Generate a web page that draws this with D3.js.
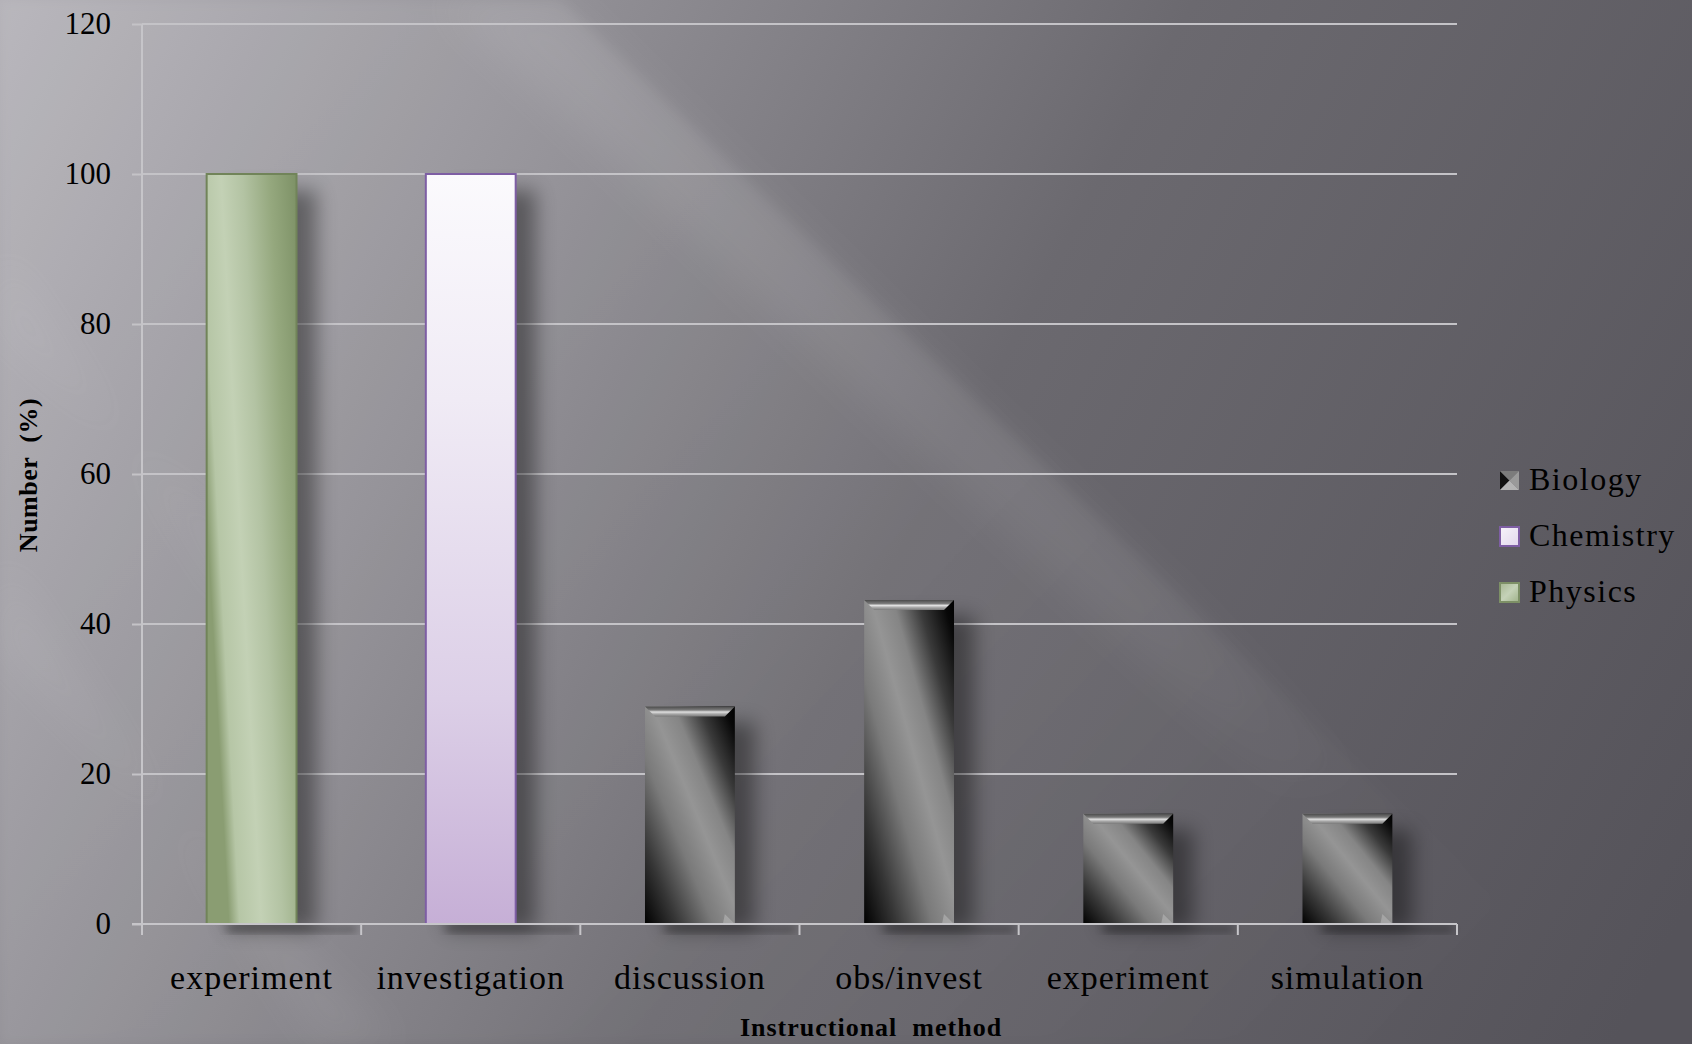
<!DOCTYPE html>
<html><head><meta charset="utf-8">
<script src="https://cdn.jsdelivr.net/npm/d3@7"></script>
<style>html,body{margin:0;padding:0;background:#6a686e;overflow:hidden}</style>
</head><body><svg id="c" width="1692" height="1044"></svg>
<script>
// ---- data ----
const categories = ["experiment", "investigation", "discussion", "obs/invest", "experiment", "simulation"];
const seriesOf   = ["Physics", "Chemistry", "Biology", "Biology", "Biology", "Biology"];
const values     = [100, 100, 29, 43.2, 14.7, 14.7];
const yTicks     = [0, 20, 40, 60, 80, 100, 120];
const legendNames = ["Biology", "Chemistry", "Physics"];
const xTitle = "Instructional method";
const yTitle = "Number\u00a0\u00a0(%)";

// ---- layout ----
const W = 1692, H = 1044;
const plot = {left: 142, right: 1457, top: 24, bottom: 924};
const svg = d3.select("#c");
const defs = svg.append("defs");

function lin(id, attrs, stops) {
  const g = defs.append("linearGradient").attr("id", id);
  Object.entries(attrs).forEach(([k, v]) => g.attr(k, v));
  stops.forEach(([o, c, op]) => g.append("stop").attr("offset", o).attr("stop-color", c).attr("stop-opacity", op == null ? 1 : op));
  return g;
}
function blur(id, sd) {
  const f = defs.append("filter").attr("id", id).attr("x", "-50%").attr("y", "-50%").attr("width", "200%").attr("height", "200%");
  f.append("feGaussianBlur").attr("stdDeviation", sd);
}
blur("b30", 30); blur("b20", 20); blur("b10", 10); blur("b6", 6); blur("b4", 4);

// background
lin("bg", {gradientUnits: "userSpaceOnUse", x1: 0, y1: 0, x2: 1692, y2: 900},
  [[0, "#b3b1b7"], [0.3, "#8d8b91"], [0.55, "#6b696f"], [1, "#55535a"]]);
svg.append("rect").attr("width", W).attr("height", H).attr("fill", "url(#bg)");
lin("lightZone", {gradientUnits: "userSpaceOnUse", x1: 300, y1: 0, x2: 1400, y2: 1044},
  [[0, "#fff", 0.08], [0.55, "#fff", 0.06], [1, "#fff", 0]]);
lin("beam", {gradientUnits: "userSpaceOnUse", x1: 450, y1: 0, x2: 1400, y2: 800},
  [[0, "#fff", 0.9], [0.75, "#fff", 0.6], [1, "#fff", 0]]);
const rays = svg.append("g");
rays.append("polygon").attr("points", "0,0 560,0 1645,1044 0,1044")
  .attr("fill", "url(#lightZone)").attr("filter", "url(#b6)");
rays.append("polygon").attr("points", "440,0 560,0 1380,790 1280,790")
  .attr("fill", "url(#beam)").attr("opacity", 0.09).attr("filter", "url(#b20)");
rays.append("polygon").attr("points", "0,560 0,650 400,1044 320,1044")
  .attr("fill", "#fff").attr("opacity", 0.06).attr("filter", "url(#b20)");
rays.append("polygon").attr("points", "0,250 0,330 260,560 230,600")
  .attr("fill", "#fff").attr("opacity", 0.05).attr("filter", "url(#b20)");

// bar gradients
lin("gPhys", {x1: 0, y1: 0.45, x2: 1, y2: 0},
  [[0, "#8a9d72"], [0.1, "#b6c6a6"], [0.3, "#c3d1b5"], [0.5, "#b3c3a3"], [0.75, "#95a87e"], [1, "#7d9166"]]);
lin("gChem", {x1: 0, y1: 0, x2: 0, y2: 1},
  [[0, "#fbfafd"], [0.3, "#f0ebf5"], [0.7, "#dccfe7"], [1, "#c6afd6"]]);
lin("gBio", {x1: 0, y1: 1, x2: 1, y2: 0},
  [[0, "#000"], [0.18, "#363636"], [0.38, "#7a7a7a"], [0.54, "#959595"], [0.66, "#858585"], [0.8, "#3a3a3a"], [0.94, "#080808"], [1, "#000"]]);
lin("gBevel", {x1: 0, y1: 0, x2: 0, y2: 1},
  [[0, "#4a4a4a"], [0.35, "#7a7a7a"], [0.55, "#e0e0e0"], [0.75, "#a8a8a8"], [1, "#7a7a7a"]]);
const fills = {Physics: "url(#gPhys)", Chemistry: "url(#gChem)", Biology: "url(#gBio)"};
const strokes = {Physics: "#718459", Chemistry: "#7e5ea4", Biology: "none"};

// scales
const x = d3.scaleBand().domain(d3.range(categories.length)).range([plot.left, plot.right]).padding(0);
const y = d3.scaleLinear().domain([0, 120]).range([plot.bottom, plot.top]);
const barW = x.bandwidth() * 0.41;
const bx = i => x(i) + (x.bandwidth() - barW) / 2;

// gridlines
svg.append("g").selectAll("line").data(yTicks.filter(d => d > 0)).join("line")
  .attr("x1", plot.left).attr("x2", plot.right)
  .attr("y1", d => y(d)).attr("y2", d => y(d))
  .attr("stroke", "#c4c3c7").attr("stroke-width", 2);

// y axis
const yAxis = svg.append("g").attr("transform", `translate(${plot.left},0)`)
  .call(d3.axisLeft(y).tickValues(yTicks).tickSize(10).tickPadding(21));
yAxis.select(".domain").attr("stroke", "#c6c5c9").attr("stroke-width", 2).attr("d", `M0,${plot.top}V${plot.bottom}`);
yAxis.selectAll(".tick line").attr("stroke", "#c4c3c7").attr("stroke-width", 2);
yAxis.selectAll(".tick text").attr("font-family", "'Liberation Serif', serif").attr("font-size", 31)
  .attr("fill", "#000").attr("dy", "0.3em");

// bar shadows
const sh = svg.append("g");
values.forEach((v, i) => {
  sh.append("rect").attr("x", bx(i) + 20).attr("y", y(v) + 16).attr("width", barW)
    .attr("height", plot.bottom - y(v) - 10).attr("fill", "#000").attr("opacity", 0.4).attr("filter", "url(#b10)");
  sh.append("rect").attr("x", bx(i) + 20).attr("y", plot.bottom + 2).attr("width", barW + 40)
    .attr("height", 6).attr("fill", "#000").attr("opacity", 0.35).attr("filter", "url(#b4)");
});

// bars
const bars = svg.append("g");
values.forEach((v, i) => {
  const s = seriesOf[i];
  const x0 = bx(i), y0 = y(v), h = plot.bottom - y(v);
  bars.append("rect").attr("x", x0).attr("y", y0).attr("width", barW).attr("height", h)
    .attr("fill", fills[s]).attr("stroke", strokes[s]).attr("stroke-width", s === "Biology" ? 0 : 2);
  if (s === "Biology") {
    const b = 10;
    bars.append("polygon")
      .attr("points", `${x0},${y0} ${x0 + barW},${y0} ${x0 + barW - b},${y0 + b} ${x0 + b},${y0 + b}`)
      .attr("fill", "url(#gBevel)");
    bars.append("polygon")
      .attr("points", `${x0 + barW},${y0 + h} ${x0 + barW - b},${y0 + h - b} ${x0 + barW - b - 2},${y0 + h}`)
      .attr("fill", "#b5b5b5").attr("opacity", 0.6);
  }
});

// x axis
const xAxis = svg.append("g").attr("transform", `translate(0,${plot.bottom})`)
  .call(d3.axisBottom(x).tickSize(0).tickPadding(58).tickFormat(i => categories[i]));
xAxis.select(".domain").attr("stroke", "#c6c5c9").attr("stroke-width", 2).attr("d", `M${plot.left - 10},0H${plot.right}`);
xAxis.selectAll(".tick text").attr("font-family", "'Liberation Serif', serif").attr("font-size", 34)
  .attr("fill", "#000").attr("letter-spacing", 1).attr("dy", "0.2em");
const bounds = d3.range(categories.length).map(i => x(i)).concat([plot.right]);
xAxis.append("g").selectAll("line").data(bounds).join("line")
  .attr("x1", d => d).attr("x2", d => d).attr("y1", 0).attr("y2", 11)
  .attr("stroke", "#c6c5c9").attr("stroke-width", 2);

// axis titles
svg.append("text").attr("x", 871).attr("y", 1036).attr("text-anchor", "middle")
  .attr("font-family", "'Liberation Serif', serif").attr("font-weight", "bold").attr("font-size", 26)
  .attr("letter-spacing", 1).attr("fill", "#000").text(xTitle.replace(" ", "\u00a0\u00a0"));
svg.append("text").attr("transform", "translate(37,475) rotate(-90)").attr("text-anchor", "middle")
  .attr("font-family", "'Liberation Serif', serif").attr("font-weight", "bold").attr("font-size", 26)
  .attr("letter-spacing", 0.5).attr("fill", "#000").text(yTitle);

// legend
lin("gLegChem", {x1: 0, y1: 0, x2: 1, y2: 1}, [[0, "#f6f3fa"], [1, "#e2d8ec"]]);
lin("gLegPhys", {x1: 0, y1: 0, x2: 1, y2: 1}, [[0, "#a8b893"], [0.5, "#c5d2b8"], [1, "#9fb289"]]);
const legFill = {Chemistry: "url(#gLegChem)", Physics: "url(#gLegPhys)"};
const legStroke = {Chemistry: "#7e5ea4", Physics: "#7d9066"};
const leg = svg.append("g");
legendNames.forEach((n, i) => {
  const yy = 471 + i * 56, xx = 1500, s = 19;
  if (n === "Biology") {
    const c = [xx + s / 2, yy + s / 2];
    const tri = [
      [[xx, yy], [xx, yy + s], "#111"],
      [[xx, yy], [xx + s, yy], "#7c7c7c"],
      [[xx + s, yy], [xx + s, yy + s], "#9a9a9a"],
      [[xx, yy + s], [xx + s, yy + s], "#b4b4b4"]];
    tri.forEach(([a, b, col]) => leg.append("polygon")
      .attr("points", [a, b, c].map(p => p.join(",")).join(" ")).attr("fill", col));
  } else {
    leg.append("rect").attr("x", xx).attr("y", yy).attr("width", s).attr("height", s)
      .attr("fill", legFill[n]).attr("stroke", legStroke[n]).attr("stroke-width", 2);
  }
  leg.append("text").attr("x", 1529).attr("y", yy + 19)
    .attr("font-family", "'Liberation Serif', serif").attr("font-size", 32).attr("letter-spacing", 1.5)
    .attr("fill", "#000").text(n);
});
</script></body></html>
